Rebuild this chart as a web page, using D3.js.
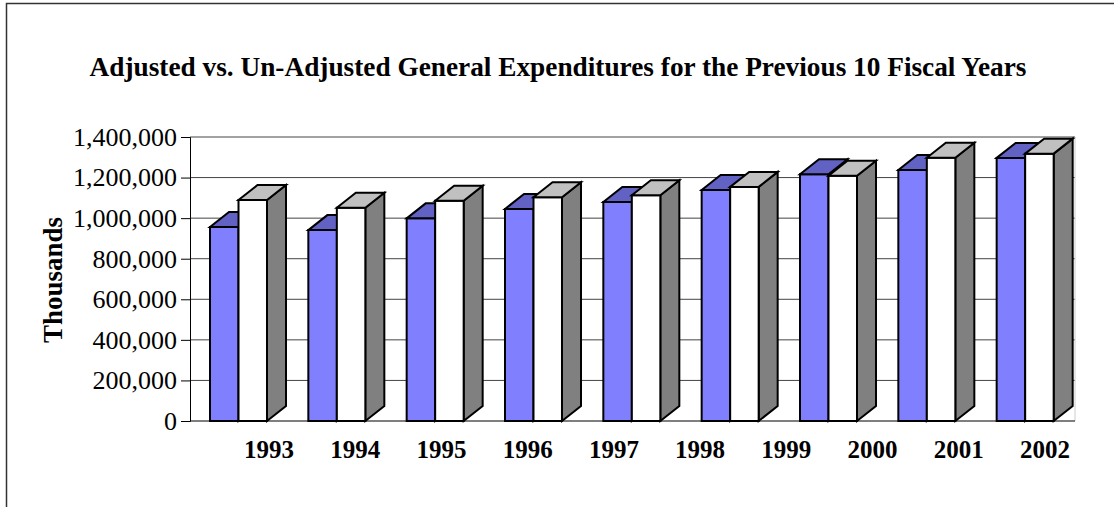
<!DOCTYPE html>
<html lang="en">
<head>
    <meta charset="UTF-8">
    <title>Adjusted vs. Un-Adjusted General Expenditures</title>
    <script src="https://d3js.org/d3.v7.min.js"></script>
    <style>
        body { margin: 0; background: #fff; }
        text { font-family: "Liberation Serif", "Times New Roman", serif; fill: #000; }
        .bar path { stroke: #000; stroke-width: 2px; stroke-linejoin: miter; }
    </style>
</head>
<body>
<div id="chart"></div>
<script>
    // bar groups actually drawn (9) and the year labels under the axis (10)
    var barGroups = ["1993", "1994", "1995", "1996", "1997", "1998", "1999", "2000", "2001"];
    var yearLabels = ["1993", "1994", "1995", "1996", "1997", "1998", "1999", "2000", "2001", "2002"];
    var adjusted = [956000, 941000, 999000, 1045000, 1080000, 1139000, 1216000, 1237000, 1297000];
    var unAdjusted = [1089000, 1051000, 1086000, 1103000, 1113000, 1154000, 1209000, 1298000, 1318000];
    var yTicks = [0, 200000, 400000, 600000, 800000, 1000000, 1200000, 1400000];

    var W = 1114, H = 507;
    var plotLeft = 190, plotRight = 1075, plotTop = 137, plotBottom = 421;
    var depthX = 19, depthY = 15;

    var svg = d3.select("#chart").append("svg")
        .attr("width", W).attr("height", H);

    // outer frame (runs off the right and bottom edges)
    svg.append("rect")
        .attr("x", 6.5).attr("y", 3.5)
        .attr("width", 1300).attr("height", 700)
        .attr("fill", "none").attr("stroke", "#333").attr("stroke-width", 1.5);

    svg.append("text")
        .attr("x", 558).attr("y", 76)
        .attr("text-anchor", "middle")
        .style("font-size", "27.3px").style("font-weight", "bold")
        .text("Adjusted vs. Un-Adjusted General Expenditures for the Previous 10 Fiscal Years");

    var y = d3.scaleLinear().domain([0, 1400000]).range([plotBottom, plotTop]);
    var x = d3.scaleBand().domain(barGroups).range([plotLeft, plotRight]);
    var sub = d3.scaleBand().domain(["adj", "unadj"]).range([20, 77]);
    var xLab = d3.scalePoint().domain(yearLabels).range([269, 1045]);

    // gridlines
    svg.append("g").selectAll("line")
        .data(yTicks.slice(1))
        .join("line")
        .attr("x1", plotLeft).attr("x2", plotRight)
        .attr("y1", function(d) { return y(d); })
        .attr("y2", function(d) { return y(d); })
        .attr("stroke", "#444").attr("stroke-width", 1);

    // right wall edge
    svg.append("line")
        .attr("x1", plotRight).attr("x2", plotRight).attr("y1", plotTop).attr("y2", plotBottom)
        .attr("stroke", "#ccc").attr("stroke-width", 1);

    // y axis
    var yAxis = d3.axisLeft(y).tickValues(yTicks)
        .tickFormat(d3.format(",")).tickSize(9).tickPadding(4);
    var gy = svg.append("g").attr("transform", "translate(" + plotLeft + ",0)").call(yAxis);
    gy.selectAll("text").style("font-size", "26px");
    gy.selectAll("path, line").attr("stroke", "#000");

    // baseline
    svg.append("line")
        .attr("x1", plotLeft).attr("x2", plotRight).attr("y1", plotBottom).attr("y2", plotBottom)
        .attr("stroke", "#000").attr("stroke-width", 1.2);

    svg.append("text")
        .attr("transform", "translate(62,280) rotate(-90)")
        .attr("text-anchor", "middle")
        .style("font-size", "27px").style("font-weight", "bold")
        .text("Thousands");

    // 3D bars
    function front(x0, w, v) {
        return "M" + x0 + "," + y(0) + "V" + y(v) + "H" + (x0 + w) + "V" + y(0) + "Z";
    }
    function topFace(x0, w, v) {
        var t = y(v);
        return "M" + x0 + "," + t + "L" + (x0 + depthX) + "," + (t - depthY) +
            "H" + (x0 + w + depthX) + "L" + (x0 + w) + "," + t + "Z";
    }
    function sideFace(x0, w, v) {
        var r = x0 + w;
        return "M" + r + "," + y(0) + "V" + y(v) + "L" + (r + depthX) + "," + (y(v) - depthY) +
            "V" + (y(0) - depthY) + "Z";
    }

    var series = [
        { key: "adj", values: adjusted, front: "#8080ff", top: "#6262c4", side: "#4a4aa0" },
        { key: "unadj", values: unAdjusted, front: "#ffffff", top: "#c0c0c0", side: "#808080" }
    ];

    var groups = svg.append("g").selectAll("g")
        .data(barGroups)
        .join("g")
        .attr("class", "bar");

    groups.each(function(cat, i) {
        var g = d3.select(this);
        var bw = sub.bandwidth();
        series.forEach(function(s) {
            var x0 = x(cat) + sub(s.key);
            var v = s.values[i];
            g.append("path").attr("d", sideFace(x0, bw, v)).attr("fill", s.side);
            g.append("path").attr("d", front(x0, bw, v)).attr("fill", s.front);
            g.append("path").attr("d", topFace(x0, bw, v)).attr("fill", s.top);
        });
    });

    // year labels
    svg.append("g").selectAll("text")
        .data(yearLabels)
        .join("text")
        .attr("x", function(d) { return xLab(d); })
        .attr("y", 458)
        .attr("text-anchor", "middle")
        .style("font-size", "25px").style("font-weight", "bold")
        .text(function(d) { return d; });
</script>
</body>
</html>
